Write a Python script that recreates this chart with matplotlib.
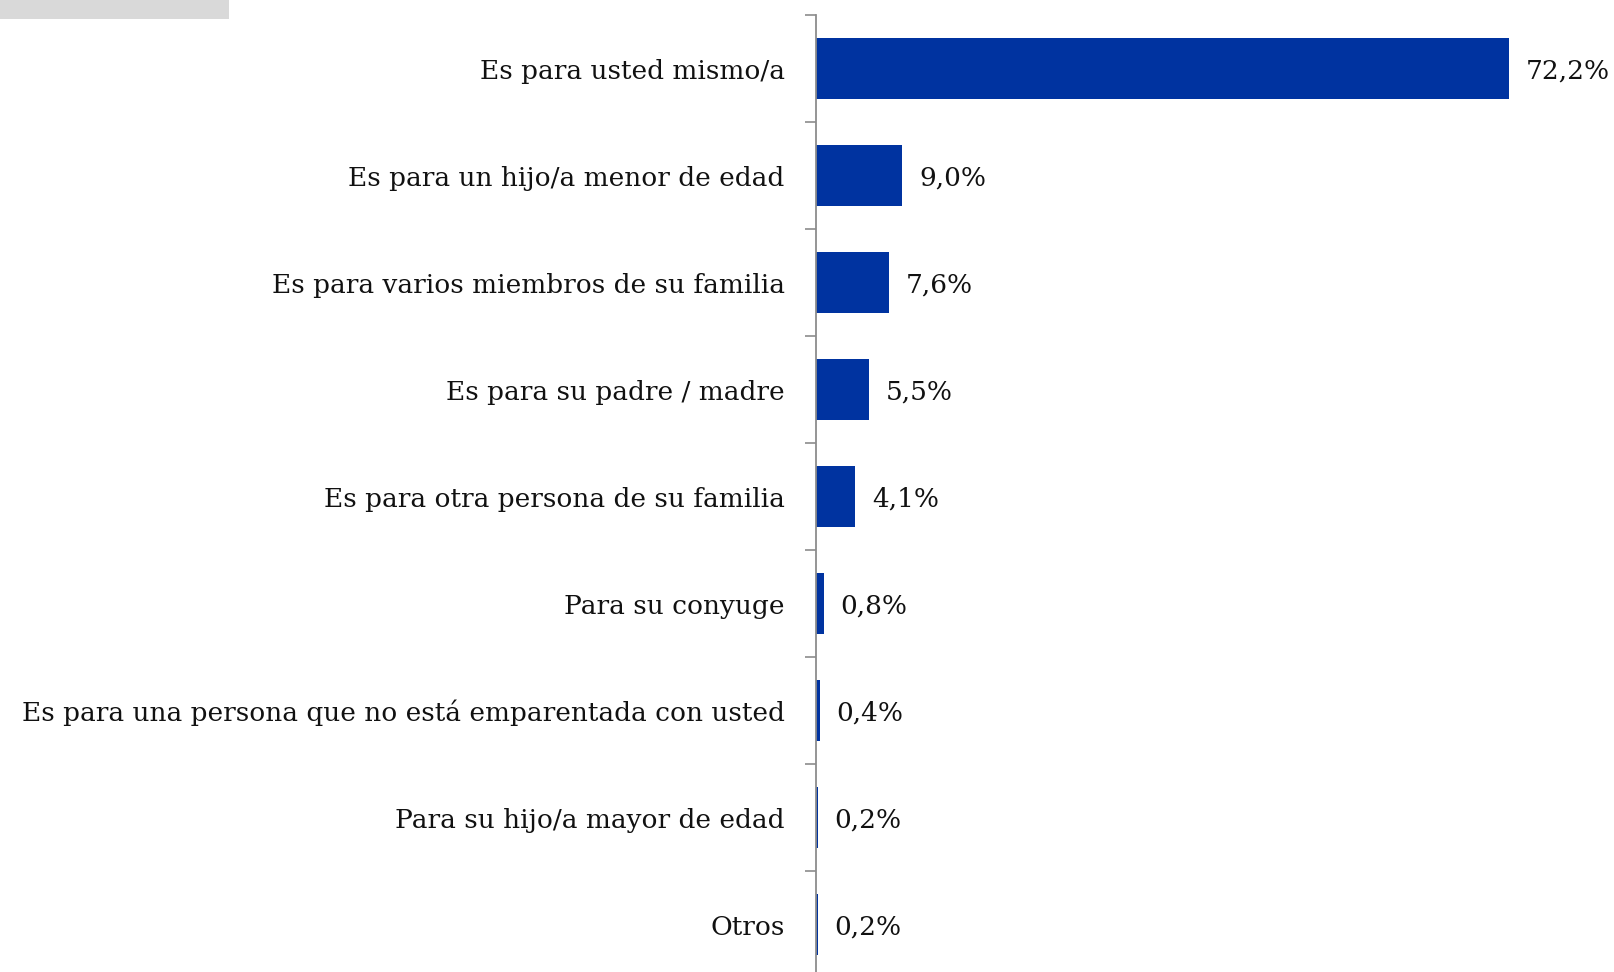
import matplotlib
matplotlib.use('Agg')
import matplotlib.pyplot as plt

#datos de la pregunta: para quien es el seguro
categories = ['Es para usted mismo/a',
              'Es para un hijo/a menor de edad',
              'Es para varios miembros de su familia',
              'Es para su padre / madre',
              'Es para otra persona de su familia',
              'Para su conyuge',
              'Es para una persona que no está emparentada con usted',
              'Para su hijo/a mayor de edad',
              'Otros']
values = [72.2, 9.0, 7.6, 5.5, 4.1, 0.8, 0.4, 0.2, 0.2]
value_labels = ['72,2%', '9,0%', '7,6%', '5,5%', '4,1%', '0,8%', '0,4%', '0,2%', '0,2%']

plt.rcParams['font.family'] = ['DejaVu Serif']
fs = 19

W, H = 1615, 972
fig = plt.figure(figsize=(W/100, H/100), dpi=100)

#banda gris arriba a la izquierda
fig.patches.append(plt.Rectangle((0, 1 - 19/H), 229/W, 19/H, transform=fig.transFigure,
                                 facecolor='#D9D9D9', edgecolor='none'))

ax_left = 816
ax = fig.add_axes([ax_left/W, -6/H, (W - ax_left)/W, (972 - 15 + 6)/H])

y = list(range(len(categories)))
ax.barh(y, values, height=0.57, color='#0033A0')

for yi, v, lab in zip(y, values, value_labels):
    ax.annotate(lab, (v, yi), xytext=(12, 0), textcoords='offset points',
                va='center_baseline', ha='left', fontsize=fs, color='#111111')

ax.set_xlim(0, (W - ax_left)/9.6)
ax.set_ylim(len(categories) - 0.5, -0.5)

ax.set_yticks(y)
ax.set_yticklabels(categories, fontsize=fs, color='#111111')
ax.tick_params(axis='y', which='major', length=0, pad=22.5)
ax.set_yticks([i - 0.5 for i in range(len(categories) + 1)], minor=True)
ax.tick_params(axis='y', which='minor', length=8, width=1.2, color='#8C8C8C', direction='out')
ax.set_xticks([])

for s in ['top', 'right', 'bottom']:
    ax.spines[s].set_visible(False)
ax.spines['left'].set_color('#8C8C8C')
ax.spines['left'].set_linewidth(1.3)

fig.savefig('out.png', dpi=100)
